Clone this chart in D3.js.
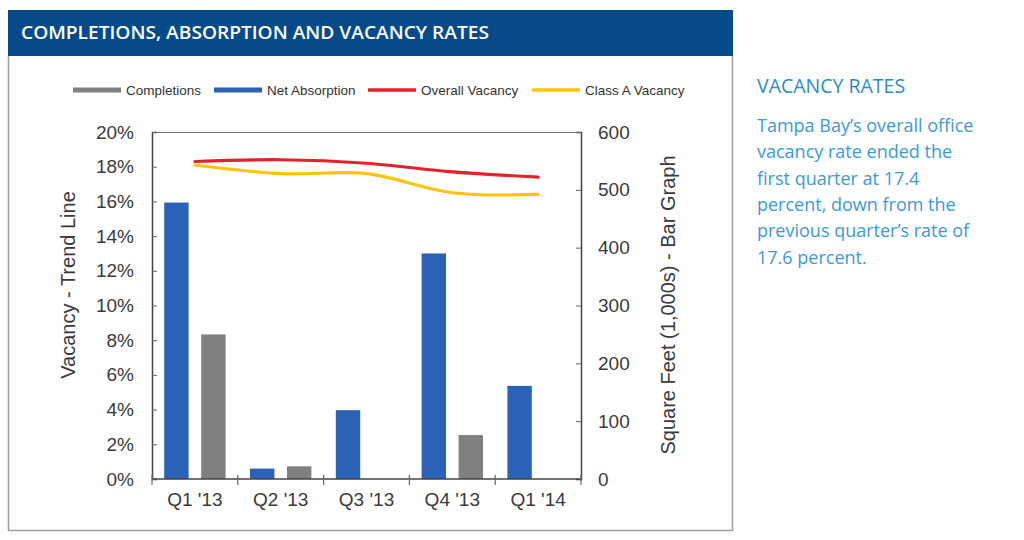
<!DOCTYPE html>
<html><head><meta charset="utf-8">
<script src="https://cdn.jsdelivr.net/npm/d3@7"></script>
<style>body{margin:0;background:#fff;}svg{display:block;}</style>
</head><body>
<svg id="c" width="1024" height="540"></svg>
<script>
const categories = ["Q1 '13","Q2 '13","Q3 '13","Q4 '13","Q1 '14"];
const netAbsorption = [478, 18, 119, 390, 161];
const completions = [250, 22, 0, 76, 0];
const overallVacancy = [18.3, 18.4, 18.2, 17.7, 17.4];
const classAVacancy = [18.1, 17.6, 17.6, 16.5, 16.4];
const leftTicks = [0,2,4,6,8,10,12,14,16,18,20];
const rightTicks = [0,100,200,300,400,500,600];
const legendItems = [
  {label:"Completions", color:"#808080", w:5},
  {label:"Net Absorption", color:"#2b62b5", w:5},
  {label:"Overall Vacancy", color:"#e3232b", w:3.5},
  {label:"Class A Vacancy", color:"#fcc30f", w:3.5}
];
const sideTitle = "VACANCY RATES";
const sideLines = ["Tampa Bay\u2019s overall office","vacancy rate ended the","first quarter at 17.4","percent, down from the","previous quarter\u2019s rate of","17.6 percent."];

const svg = d3.select("#c");
const font = "'Liberation Sans', Arial, sans-serif";

// frame
svg.append("rect").attr("x",8).attr("y",10).attr("width",725).attr("height",46).attr("fill","#064a87");
svg.append("text").attr("x",21).attr("y",39).attr("fill","#fff")
  .attr("font-family","'Open Sans', sans-serif").attr("font-size",18.5).attr("font-weight",600)
  .attr("textLength",468).attr("lengthAdjust","spacingAndGlyphs")
  .text("COMPLETIONS, ABSORPTION AND VACANCY RATES");
svg.append("path").attr("d","M8.5,56 V530.5 H732.5 V56").attr("fill","none").attr("stroke","#a0a0a0").attr("stroke-width",1.5);

// scales
const L = 152, R = 581, T = 132, B = 479;
const x = d3.scaleBand().domain(categories).range([L,R]);
const yL = d3.scaleLinear().domain([0,20]).range([B,T]);
const yR = d3.scaleLinear().domain([0,600]).range([B,T]);
const sub = d3.scaleBand().domain(["net","comp"]).range([0,x.bandwidth()]).paddingInner(0.34).paddingOuter(0.33);

// plot top border
svg.append("line").attr("x1",L).attr("x2",R).attr("y1",T+0.5).attr("y2",T+0.5).attr("stroke","#777").attr("stroke-width",1.2);

// bars
svg.append("g").selectAll("rect").data(categories).join("rect")
  .attr("x",d=>x(d)+sub("net")).attr("width",sub.bandwidth())
  .attr("y",(d,i)=>yR(netAbsorption[i])).attr("height",(d,i)=>B-yR(netAbsorption[i]))
  .attr("fill","#2b62b5");
svg.append("g").selectAll("rect").data(categories).join("rect")
  .attr("x",d=>x(d)+sub("comp")).attr("width",sub.bandwidth())
  .attr("y",(d,i)=>yR(completions[i])).attr("height",(d,i)=>B-yR(completions[i]))
  .attr("fill","#808080");

// lines
const line = d3.line().x((d,i)=>x(categories[i])+x.bandwidth()/2).y(d=>yL(d)).curve(d3.curveCatmullRom.alpha(0.5));
svg.append("path").datum(overallVacancy).attr("d",line).attr("fill","none").attr("stroke","#e3232b").attr("stroke-width",3.2).attr("stroke-linecap","round");
svg.append("path").datum(classAVacancy).attr("d",line).attr("fill","none").attr("stroke","#fcc30f").attr("stroke-width",3.2).attr("stroke-linecap","round");

// axes
const axL = svg.append("g").attr("transform",`translate(${L},0)`)
  .call(d3.axisLeft(yL).tickValues(leftTicks).tickFormat(d=>d+"%").tickSize(-5).tickPadding(18));
const axR = svg.append("g").attr("transform",`translate(${R},0)`)
  .call(d3.axisRight(yR).tickValues(rightTicks).tickSize(-5).tickPadding(17));
const axB = svg.append("g").attr("transform",`translate(0,${B})`)
  .call(d3.axisBottom(x).tickSize(0).tickPadding(14));
[axL,axR,axB].forEach(g=>{
  g.select(".domain").attr("stroke","#444").attr("stroke-width",1.5);
  g.selectAll(".tick line").attr("stroke","#666");
  g.selectAll("text").attr("font-family",font).attr("font-size",19).attr("fill","#3a3a3a");
});
axB.select(".domain").attr("d",`M${L},0H${R}`);
// category boundary ticks
svg.append("g").selectAll("line").data(categories.concat(["end"])).join("line")
  .attr("x1",(d,i)=>i<categories.length?x(d):R).attr("x2",(d,i)=>i<categories.length?x(d):R)
  .attr("y1",B-4).attr("y2",B+6).attr("stroke","#666").attr("stroke-width",1.2);

// axis titles
svg.append("text").attr("transform",`translate(75,285) rotate(-90)`).attr("text-anchor","middle")
  .attr("font-family",font).attr("font-size",20).attr("fill","#3a3a3a").text("Vacancy - Trend Line");
svg.append("text").attr("transform",`translate(675,305) rotate(-90)`).attr("text-anchor","middle")
  .attr("font-family",font).attr("font-size",20).attr("fill","#3a3a3a").text("Square Feet (1,000s) - Bar Graph");

// legend
const lx = [73,214,368,532];
const lg = svg.append("g").selectAll("g").data(legendItems).join("g").attr("transform",(d,i)=>`translate(${lx[i]},90)`);
lg.append("line").attr("x1",0).attr("x2",48).attr("stroke",d=>d.color).attr("stroke-width",d=>d.w);
lg.append("text").attr("x",53).attr("y",4.5).attr("font-family",font).attr("font-size",13.5).attr("fill","#333").text(d=>d.label);

// side text
svg.append("text").attr("x",757).attr("y",93).attr("fill","#2d8bcc")
  .attr("font-family","'Open Sans', sans-serif").attr("font-size",19.5).text(sideTitle);
svg.append("g").selectAll("text").data(sideLines).join("text")
  .attr("x",757).attr("y",(d,i)=>132+i*26.3).attr("fill","#3b9ad8")
  .attr("font-family","'Open Sans', sans-serif").attr("font-size",18).text(d=>d);
</script>
</body></html>
